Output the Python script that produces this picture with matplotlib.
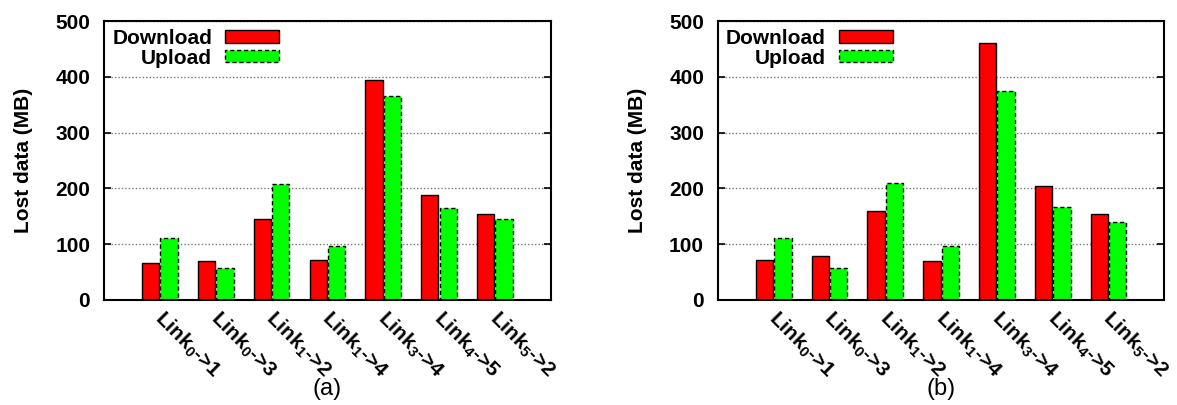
import numpy as np
import matplotlib.pyplot as plt

# lost data per link (MB), two scenarios
links = [r'Link$_0$->1', r'Link$_0$->3', r'Link$_1$->2', r'Link$_1$->4',
         r'Link$_3$->4', r'Link$_4$->5', r'Link$_5$->2']
download_a = [66, 69, 145, 72, 395, 188, 155]
upload_a = [111, 58, 207, 97, 366, 165, 145]
download_b = [72, 79, 160, 70, 460, 205, 155]
upload_b = [111, 57, 210, 96, 374, 167, 140]
captions = ['(a)', '(b)']

plt.rcParams['font.family'] = ['Liberation Sans', 'DejaVu Sans']
plt.rcParams['font.weight'] = 'bold'
plt.rcParams['mathtext.fontset'] = 'custom'
plt.rcParams['mathtext.rm'] = 'Liberation Sans:bold'
plt.rcParams['mathtext.it'] = 'Liberation Sans:bold'
plt.rcParams['mathtext.bf'] = 'Liberation Sans:bold'

fs = 15

fig = plt.figure(figsize=(11.77, 4.05), dpi=100)
ax_a = fig.add_axes([0.0884, 0.2593, 0.3795, 0.6888])
ax_b = fig.add_axes([0.6100, 0.2593, 0.3792, 0.6888])

x = np.arange(1, len(links) + 1)
w = 0.31

for ax, down, up, cap in [(ax_a, download_a, upload_a, captions[0]),
                          (ax_b, download_b, upload_b, captions[1])]:
    ax.bar(x - w / 2 - 0.01, down, w, color='#ff0000', edgecolor='black',
           linewidth=1.0, label='Download')
    ax.bar(x + w / 2 + 0.01, up, w, color='#00ff00', edgecolor='black',
           linewidth=1.0, linestyle=(0, (3, 2)), label='Upload')

    ax.set_xlim(0, 8)
    ax.set_ylim(0, 500)
    ax.set_yticks([0, 100, 200, 300, 400, 500])
    # tick marks are hidden, so the slanted names start just right of centre
    ax.set_xticks(x + 0.1)
    ax.set_xticklabels(links, rotation=-45, ha='left', rotation_mode='anchor')
    ax.tick_params(axis='x', length=0, pad=5, labelsize=fs)
    ax.tick_params(axis='y', direction='in', length=5, width=1.2, pad=10,
                   labelsize=fs, right=True)
    ax.yaxis.grid(True, linestyle=(0, (1, 1.5)), color='#777777', linewidth=1.0)
    ax.set_axisbelow(True)
    for s in ax.spines.values():
        s.set_linewidth(1.5)

    ax.set_ylabel('Lost data (MB)', fontsize=fs, fontweight='bold')
    ax.yaxis.set_label_coords(-0.158, 0.5)

    ax.legend(loc='upper right', bbox_to_anchor=(0.392, 0.972), frameon=False,
              markerfirst=False, fontsize=fs, handlelength=2.6,
              handleheight=0.52, handletextpad=0.62, labelspacing=0.04,
              borderpad=0, borderaxespad=0)

    pos = ax.get_position()
    fig.text((pos.x0 + pos.x1) / 2, 1 - 389 / 405, cap, ha='center',
             va='center', fontsize=17, fontweight='normal')

fig.savefig('out.png', dpi=100)
